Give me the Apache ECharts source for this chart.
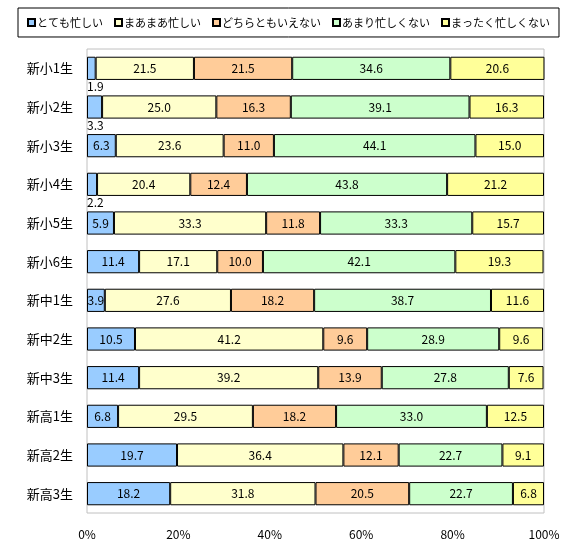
<!DOCTYPE html>
<html style="height: 100%">
<head>
  <meta charset="utf-8">
  <script src="https://cdn.jsdelivr.net/npm/echarts@6/dist/echarts.min.js"></script>
</head>
<body style="height: 100%; margin: 0; background: #fff">
<div id="container" style="width: 580px; height: 550px"></div>
<script type="text/javascript">
var categories = ['新小1生', '新小2生', '新小3生', '新小4生', '新小5生', '新小6生',
                  '新中1生', '新中2生', '新中3生', '新高1生', '新高2生', '新高3生'];
var seriesNames = ['とても忙しい', 'まあまあ忙しい', 'どちらともいえない', 'あまり忙しくない', 'まったく忙しくない'];
var colors = ['#99CCFF', '#FFFFCC', '#FFCC99', '#CCFFCC', '#FFFF99'];

var veryBusy   = [1.9, 3.3, 6.3, 2.2, 5.9, 11.4, 3.9, 10.5, 11.4, 6.8, 19.7, 18.2];
var fairlyBusy = [21.5, 25.0, 23.6, 20.4, 33.3, 17.1, 27.6, 41.2, 39.2, 29.5, 36.4, 31.8];
var neither    = [21.5, 16.3, 11.0, 12.4, 11.8, 10.0, 18.2, 9.6, 13.9, 18.2, 12.1, 20.5];
var notVery    = [34.6, 39.1, 44.1, 43.8, 33.3, 42.1, 38.7, 28.9, 27.8, 33.0, 22.7, 22.7];
var notAtAll   = [20.6, 16.3, 15.0, 21.2, 15.7, 19.3, 11.6, 9.6, 7.6, 12.5, 9.1, 6.8];
var xTicks = [0, 20, 40, 60, 80, 100];

var font = '"Noto Sans CJK JP", sans-serif';
var allData = [veryBusy, fairlyBusy, neither, notVery, notAtAll];

// labels of very thin bars go underneath
function makeData(arr) {
  return arr.map(function (v) {
    if (v < 3.5) {
      return {
        value: v,
        label: {position: [0, '100%'], align: 'left', verticalAlign: 'top', offset: [0, 1]}
      };
    }
    return v;
  });
}

var series = allData.map(function (arr, i) {
  return {
    name: seriesNames[i],
    type: 'bar',
    stack: 'total',
    barCategoryGap: '40%',
    data: makeData(arr),
    itemStyle: {color: colors[i], borderColor: '#000', borderWidth: 1},
    label: {
      show: true,
      position: 'inside',
      color: '#000',
      fontSize: 12,
      fontFamily: font,
      formatter: function (p) { return p.value.toFixed(1); }
    },
    emphasis: {disabled: true}
  };
});

var myChart = echarts.init(document.getElementById('container'));
var option = {
  animation: false,
  legend: {
    left: 18,
    top: 8,
    width: 560,
    padding: [9, 9, 9, 9],
    borderColor: '#000',
    borderWidth: 1,
    itemWidth: 7,
    itemHeight: 7,
    itemGap: 11,
    icon: 'rect',
    textStyle: {fontSize: 11, fontFamily: font, color: '#000', padding: [0, 0, 0, -3]},
    data: seriesNames
  },
  grid: {
    left: 87,
    right: 36,
    top: 49,
    bottom: 37,
    show: true,
    borderColor: '#c0c0c0',
    borderWidth: 1,
    containLabel: false
  },
  xAxis: {
    type: 'value',
    min: 0,
    max: 100,
    interval: 20,
    axisLine: {show: false},
    axisTick: {show: false},
    splitLine: {show: false},
    axisLabel: {
      margin: 15,
      fontSize: 12,
      fontFamily: font,
      color: '#000',
      formatter: function (v) { return xTicks.indexOf(v) >= 0 ? v + '%' : ''; }
    }
  },
  yAxis: {
    type: 'category',
    inverse: true,
    data: categories,
    axisLine: {show: false},
    axisTick: {show: false},
    axisLabel: {margin: 14, fontSize: 13, fontFamily: font, color: '#000'}
  },
  series: series
};
myChart.setOption(option);
</script>
</body>
</html>
